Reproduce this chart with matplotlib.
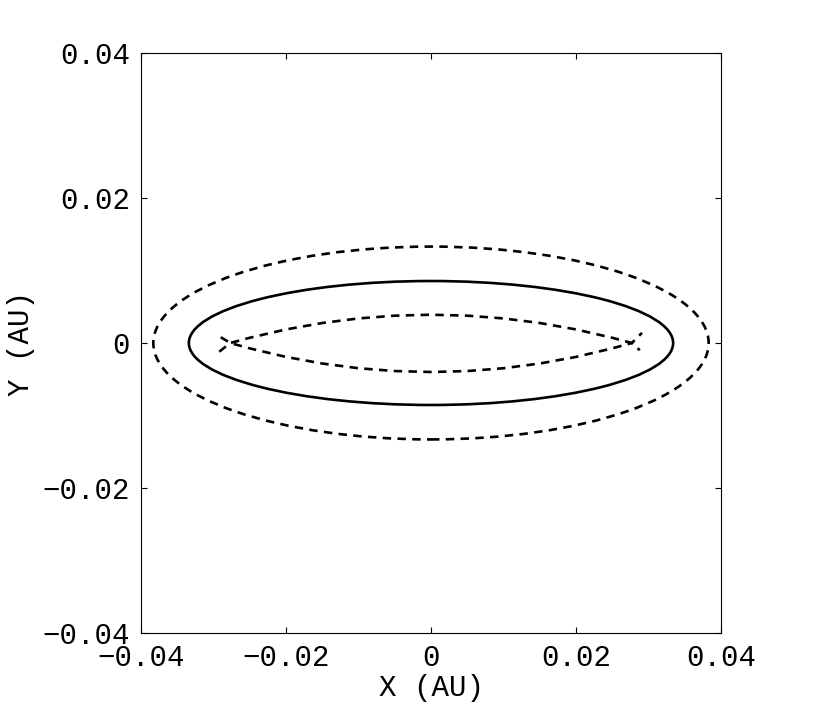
import matplotlib
matplotlib.use('Agg')
import matplotlib.pyplot as plt
from matplotlib import patches

plt.rcParams['font.family'] = ['Liberation Mono', 'DejaVu Sans Mono']

# orbit ellipses: centre (x, y), semi-axes (a, b) in AU
solid_centre = (0.0, 0.0)
solid_axes = (0.0334, 0.00855)
outer_centre = (0.0, 0.0)
outer_axes = (0.0383, 0.0133)

# inner lens-shaped trajectory (AU)
upper_x = [-0.0292, -0.0277, -0.0250, -0.0200, -0.0150, -0.0100, -0.0050, 0.0,
           0.0050, 0.0100, 0.0150, 0.0200, 0.0250, 0.0277, 0.0288]
upper_y = [-0.0012, 0.0000, 0.00072, 0.00187, 0.00276, 0.00339, 0.00377, 0.0039,
           0.00377, 0.00339, 0.00276, 0.00187, 0.00072, 0.0000, -0.0010]
lower_x = [-0.0290, -0.0277, -0.0250, -0.0200, -0.0150, -0.0100, -0.0050, 0.0,
           0.0050, 0.0100, 0.0150, 0.0200, 0.0250, 0.0277, 0.0291]
lower_y = [0.0008, 0.0000, -0.00074, -0.00192, -0.00283, -0.00348, -0.00387, -0.0040,
           -0.00387, -0.00348, -0.00283, -0.00192, -0.00074, 0.0000, 0.0014]

ticks = [-0.04, -0.02, 0, 0.02, 0.04]
tick_labels = ['\u22120.04', '\u22120.02', '0', '0.02', '0.04']

fig = plt.figure(figsize=(8.3, 7.13), dpi=100)
ax = fig.add_axes([141/830, 80/713, 580/830, 580/713])

lw = 1.9
dash = (0, (3.2, 2.4))
ax.add_patch(patches.Ellipse(solid_centre, 2*solid_axes[0], 2*solid_axes[1],
                             facecolor='none', edgecolor='k', lw=lw))
ax.add_patch(patches.Ellipse(outer_centre, 2*outer_axes[0], 2*outer_axes[1],
                             facecolor='none', edgecolor='k', lw=lw, linestyle=dash))
ax.plot(upper_x, upper_y, color='k', lw=lw, linestyle=dash)
ax.plot(lower_x, lower_y, color='k', lw=lw, linestyle=dash)

ax.set_xlim(-0.04, 0.04)
ax.set_ylim(-0.04, 0.04)
ax.set_xticks(ticks)
ax.set_yticks(ticks)
ax.set_xticklabels(tick_labels)
ax.set_yticklabels(tick_labels)
ax.tick_params(direction='in', length=4, width=0.8, labelsize=21,
               top=True, right=True, pad=8)
for s in ax.spines.values():
    s.set_linewidth(0.8)

ax.set_xlabel('X (AU)', fontsize=21, labelpad=1)
ax.set_ylabel('Y (AU)', fontsize=21, labelpad=5)

plt.savefig('out.png', dpi=100, facecolor='w')
